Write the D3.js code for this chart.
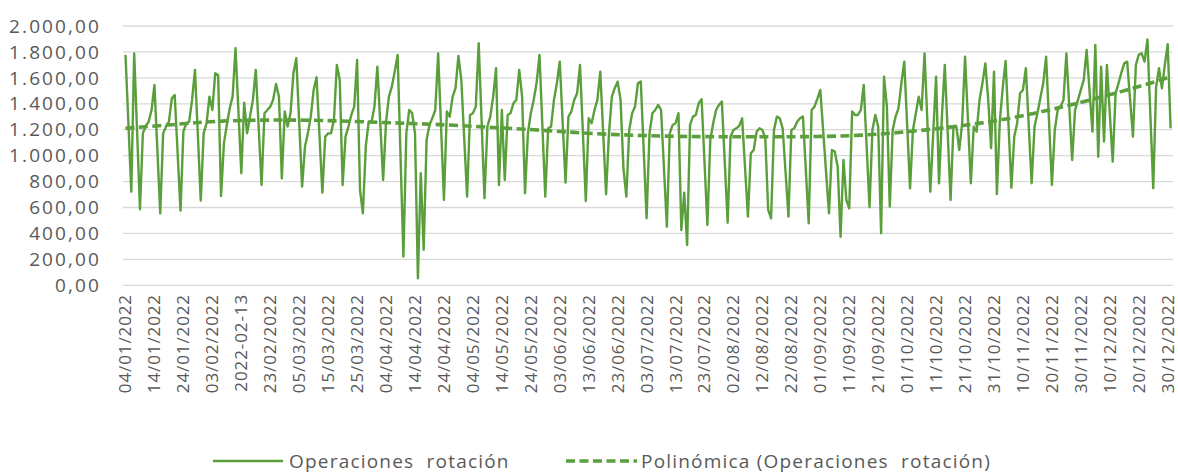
<!DOCTYPE html>
<html>
<head>
<meta charset="utf-8">
<title>Operaciones rotación</title>
<script src="https://d3js.org/d3.v7.min.js"></script>
<style>
  body { margin: 0; background: #fff; }
  svg { display: block; }
  text { font-family: "Open Sans", sans-serif; fill: #595959; }
</style>
</head>
<body>
<script>
// daily values (days that sit on a straight segment are left out)
var dates = [
  "2022-01-04","2022-01-06","2022-01-07","2022-01-09","2022-01-10","2022-01-11","2022-01-12","2022-01-13","2022-01-14","2022-01-16",
  "2022-01-17","2022-01-18","2022-01-19","2022-01-20","2022-01-21","2022-01-23","2022-01-24","2022-01-25","2022-01-26","2022-01-27",
  "2022-01-28","2022-01-30","2022-01-31","2022-02-01","2022-02-02","2022-02-03","2022-02-04","2022-02-05","2022-02-06","2022-02-07",
  "2022-02-08","2022-02-09","2022-02-10","2022-02-11","2022-02-13","2022-02-14","2022-02-15","2022-02-16","2022-02-17","2022-02-18",
  "2022-02-20","2022-02-21","2022-02-22","2022-02-23","2022-02-24","2022-02-25","2022-02-26","2022-02-27","2022-02-28","2022-03-01",
  "2022-03-02","2022-03-03","2022-03-04","2022-03-06","2022-03-07","2022-03-08","2022-03-09","2022-03-10","2022-03-11","2022-03-13",
  "2022-03-14","2022-03-15","2022-03-16","2022-03-17","2022-03-18","2022-03-19","2022-03-20","2022-03-21","2022-03-22","2022-03-23",
  "2022-03-24","2022-03-25","2022-03-26","2022-03-27","2022-03-28","2022-03-29","2022-03-30","2022-03-31","2022-04-01","2022-04-03",
  "2022-04-04","2022-04-05","2022-04-06","2022-04-07","2022-04-08","2022-04-10","2022-04-11","2022-04-12","2022-04-13","2022-04-14",
  "2022-04-15","2022-04-16","2022-04-17","2022-04-18","2022-04-19","2022-04-20","2022-04-21","2022-04-22","2022-04-24","2022-04-25",
  "2022-04-26","2022-04-27","2022-04-28","2022-04-29","2022-04-30","2022-05-02","2022-05-03","2022-05-04","2022-05-05","2022-05-06",
  "2022-05-08","2022-05-09","2022-05-10","2022-05-11","2022-05-12","2022-05-13","2022-05-14","2022-05-15","2022-05-16","2022-05-17",
  "2022-05-18","2022-05-19","2022-05-20","2022-05-21","2022-05-22","2022-05-23","2022-05-24","2022-05-25","2022-05-26","2022-05-27",
  "2022-05-29","2022-05-30","2022-05-31","2022-06-01","2022-06-02","2022-06-03","2022-06-05","2022-06-06","2022-06-07","2022-06-08",
  "2022-06-09","2022-06-10","2022-06-12","2022-06-13","2022-06-14","2022-06-15","2022-06-16","2022-06-17","2022-06-19","2022-06-20",
  "2022-06-21","2022-06-22","2022-06-23","2022-06-24","2022-06-25","2022-06-26","2022-06-27","2022-06-28","2022-06-29","2022-06-30",
  "2022-07-01","2022-07-03","2022-07-04","2022-07-05","2022-07-06","2022-07-07","2022-07-08","2022-07-10","2022-07-11","2022-07-12",
  "2022-07-13","2022-07-14","2022-07-15","2022-07-16","2022-07-17","2022-07-18","2022-07-19","2022-07-20","2022-07-21","2022-07-22",
  "2022-07-24","2022-07-25","2022-07-26","2022-07-27","2022-07-28","2022-07-29","2022-07-31","2022-08-01","2022-08-02","2022-08-03",
  "2022-08-04","2022-08-05","2022-08-07","2022-08-08","2022-08-09","2022-08-10","2022-08-11","2022-08-12","2022-08-13","2022-08-14",
  "2022-08-15","2022-08-16","2022-08-17","2022-08-18","2022-08-19","2022-08-21","2022-08-22","2022-08-23","2022-08-24","2022-08-25",
  "2022-08-26","2022-08-28","2022-08-29","2022-08-30","2022-08-31","2022-09-01","2022-09-04","2022-09-05","2022-09-06","2022-09-07",
  "2022-09-08","2022-09-09","2022-09-10","2022-09-11","2022-09-12","2022-09-13","2022-09-14","2022-09-15","2022-09-16","2022-09-18",
  "2022-09-19","2022-09-20","2022-09-21","2022-09-22","2022-09-23","2022-09-24","2022-09-25","2022-09-26","2022-09-27","2022-09-28",
  "2022-09-29","2022-09-30","2022-10-02","2022-10-03","2022-10-04","2022-10-05","2022-10-06","2022-10-07","2022-10-09","2022-10-10",
  "2022-10-11","2022-10-12","2022-10-13","2022-10-14","2022-10-16","2022-10-17","2022-10-18","2022-10-19","2022-10-20","2022-10-21",
  "2022-10-23","2022-10-24","2022-10-25","2022-10-26","2022-10-27","2022-10-28","2022-10-29","2022-10-30","2022-10-31","2022-11-01",
  "2022-11-02","2022-11-03","2022-11-04","2022-11-06","2022-11-07","2022-11-08","2022-11-09","2022-11-10","2022-11-11","2022-11-13",
  "2022-11-14","2022-11-15","2022-11-16","2022-11-17","2022-11-18","2022-11-20","2022-11-21","2022-11-22","2022-11-23","2022-11-24",
  "2022-11-25","2022-11-27","2022-11-28","2022-11-29","2022-11-30","2022-12-01","2022-12-02","2022-12-04","2022-12-05","2022-12-06",
  "2022-12-07","2022-12-08","2022-12-09","2022-12-11","2022-12-12","2022-12-13","2022-12-14","2022-12-15","2022-12-16","2022-12-18",
  "2022-12-19","2022-12-20","2022-12-21","2022-12-22","2022-12-23","2022-12-25","2022-12-26","2022-12-27","2022-12-28","2022-12-29",
  "2022-12-30","2022-12-31"
];
var values = [
  1777,722,1789,586,1172,1229,1262,1352,1545,555,
  1172,1224,1262,1442,1468,576,1185,1250,1262,1430,
  1661,653,1172,1250,1455,1352,1635,1622,689,1095,
  1237,1365,1455,1828,864,1409,1172,1301,1430,1661,
  774,1327,1352,1378,1430,1553,1455,825,1340,1224,
  1327,1635,1751,761,1070,1172,1301,1507,1604,715,
  1147,1172,1172,1275,1699,1584,774,1147,1224,1314,
  1378,1738,735,555,1070,1262,1262,1378,1687,812,
  1262,1455,1532,1650,1777,221,1172,1352,1330,1172,
  54,864,273,1121,1237,1290,1352,1789,658,1340,
  1301,1455,1520,1769,1584,684,1314,1327,1378,1867,
  671,1224,1301,1455,1674,774,1352,812,1314,1327,
  1404,1430,1661,1455,710,1172,1327,1430,1560,1777,
  684,1211,1224,1430,1558,1725,792,1301,1340,1430,
  1481,1699,650,1288,1250,1352,1430,1648,702,1172,
  1455,1520,1571,1430,902,684,1198,1327,1378,1558,
  1571,517,1172,1327,1352,1391,1352,452,1172,1237,
  1250,1327,427,715,311,1237,1301,1314,1404,1435,
  465,1121,1250,1352,1391,1417,483,1147,1198,1211,
  1230,1288,530,1018,1044,1185,1211,1198,1134,581,
  517,1198,1301,1288,1211,530,1198,1211,1262,1288,
  1301,478,1352,1378,1440,1507,555,1044,1031,915,
  375,967,658,594,1340,1314,1314,1352,1545,602,
  1198,1314,1224,401,1609,1378,607,1198,1301,1365,
  1558,1725,748,1198,1327,1455,1352,1789,722,1172,
  1609,787,1300,1699,658,1224,1224,1044,1250,1764,
  787,1224,1185,1430,1558,1712,1430,1057,1648,704,
  1262,1520,1730,753,1147,1250,1481,1507,1674,787,
  1224,1327,1442,1558,1764,774,1198,1352,1380,1430,
  1789,967,1352,1430,1507,1584,1815,1185,1854,992,
  1687,1108,1699,954,1480,1558,1640,1712,1725,1147,
  1699,1777,1789,1725,1897,748,1532,1674,1520,1700,
  1859,1211
];

// polynomial trendline
var trendDates = ["2022-01-04","2022-01-23","2022-02-06","2022-02-22","2022-03-12","2022-04-03","2022-04-20","2022-05-12","2022-05-27",
  "2022-06-12","2022-07-01","2022-07-21","2022-08-25","2022-09-14","2022-10-02","2022-10-18","2022-11-03","2022-11-14","2022-11-23",
  "2022-11-29","2022-12-14","2022-12-26","2022-12-31"];
var trendValues = [1211,1244,1270,1275,1275,1255,1244,1216,1198,1172,1154,1145,1145,1152,1185,1224,1275,1327,1373,1404,1494,1571,1610];

var yTicks = [0,200,400,600,800,1000,1200,1400,1600,1800,2000];
var xTickLabels = ["04/01/2022","14/01/2022","24/01/2022","03/02/2022","2022-02-13","23/02/2022","05/03/2022","15/03/2022",
  "25/03/2022","04/04/2022","14/04/2022","24/04/2022","04/05/2022","14/05/2022","24/05/2022","03/06/2022","13/06/2022",
  "23/06/2022","03/07/2022","13/07/2022","23/07/2022","02/08/2022","12/08/2022","22/08/2022","01/09/2022","11/09/2022",
  "21/09/2022","01/10/2022","11/10/2022","21/10/2022","31/10/2022","10/11/2022","20/11/2022","30/11/2022","10/12/2022",
  "20/12/2022","30/12/2022"];

var seriesName = "Operaciones  rotación";
var trendName = "Polinómica (Operaciones  rotación)";

var w = 1178, h = 473;
var green = "#5a9f3b";
var parse = d3.timeParse("%Y-%m-%d");

var data = dates.map(function (d, i) { return { date: parse(d), value: values[i] }; });
var trend = trendDates.map(function (d, i) { return { date: parse(d), value: trendValues[i] }; });

var x = d3.scaleTime()
  .domain([parse("2022-01-04"), parse("2022-12-31")])
  .range([125.5, 1170.6]);
var y = d3.scaleLinear().domain([0, 2000]).range([285.3, 26]);

var es = d3.formatLocale({ decimal: ",", thousands: ".", grouping: [3], currency: ["", ""] });
var fmt = es.format(",.2f");

var svg = d3.select("body").append("svg").attr("width", w).attr("height", h);
svg.append("rect").attr("width", w).attr("height", h).attr("fill", "#fff");

// gridlines
svg.append("g").selectAll("line")
  .data(yTicks).enter().append("line")
  .attr("x1", 123).attr("x2", 1173)
  .attr("y1", function (d) { return y(d); })
  .attr("y2", function (d) { return y(d); })
  .attr("stroke", "#d9d9d9").attr("stroke-width", 1.3);

// y labels
svg.append("g").selectAll("text")
  .data(yTicks).enter().append("text")
  .attr("x", 101)
  .attr("y", function (d) { return y(d); })
  .attr("dy", "0.35em")
  .attr("text-anchor", "end")
  .style("font-size", "19px")
  .style("letter-spacing", "2.1px")
  .text(function (d) { return fmt(d); });

// x labels, every 10 days
var tickDates = xTickLabels.map(function (l, i) { return d3.timeDay.offset(parse("2022-01-04"), 10 * i); });
svg.append("g").selectAll("text")
  .data(tickDates).enter().append("text")
  .attr("transform", function (d) { return "translate(" + x(d) + ",294) rotate(-90)"; })
  .attr("dy", "0.35em")
  .attr("text-anchor", "end")
  .style("font-size", "17px")
  .style("letter-spacing", "0.9px")
  .text(function (d, i) { return xTickLabels[i]; });

var line = d3.line()
  .x(function (d) { return x(d.date); })
  .y(function (d) { return y(d.value); });

svg.append("path")
  .datum(data)
  .attr("fill", "none")
  .attr("stroke", green)
  .attr("stroke-width", 2.4)
  .attr("stroke-linejoin", "round")
  .attr("d", line);

var trendLine = d3.line()
  .curve(d3.curveBasis)
  .x(function (d) { return x(d.date); })
  .y(function (d) { return y(d.value); });

svg.append("path")
  .datum(trend)
  .attr("fill", "none")
  .attr("stroke", green)
  .attr("stroke-width", 3.6)
  .attr("stroke-dasharray", "9,4.5")
  .attr("d", trendLine);

// legend
var lg = svg.append("g");
lg.append("line").attr("x1", 213).attr("x2", 283).attr("y1", 461).attr("y2", 461)
  .attr("stroke", green).attr("stroke-width", 2.4);
lg.append("text").attr("x", 289).attr("y", 461).attr("dy", "0.35em")
  .style("font-size", "19px").style("white-space", "pre").style("letter-spacing", "1.2px")
  .text(seriesName);
lg.append("line").attr("x1", 566).attr("x2", 637).attr("y1", 461).attr("y2", 461)
  .attr("stroke", green).attr("stroke-width", 3.6).attr("stroke-dasharray", "9,4.5");
lg.append("text").attr("x", 641).attr("y", 461).attr("dy", "0.35em")
  .style("font-size", "19px").style("white-space", "pre").style("letter-spacing", "1.2px")
  .text(trendName);
</script>
</body>
</html>
